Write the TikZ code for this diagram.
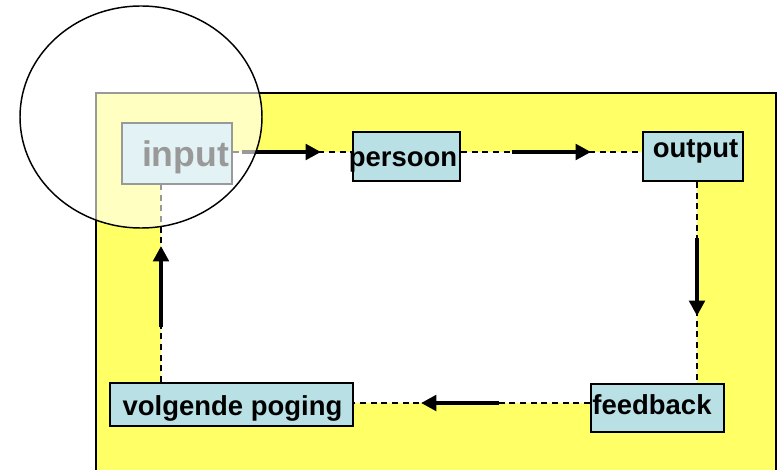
\documentclass[tikz,border=0pt]{standalone}
\usepackage{fontspec}
\setmainfont{Liberation Sans}
\usetikzlibrary{arrows.meta,fit}

\definecolor{frameyellow}{RGB}{255,255,102}
\definecolor{boxcyan}{RGB}{185,224,228}

\tikzset{
  stepbox/.style={draw=black, line width=1.5pt, fill=boxcyan, inner sep=0pt},
  steptext/.style={anchor=base, inner sep=0pt, font=\bfseries\fontsize{20.6pt}{24pt}\selectfont},
  flowline/.style={line width=1.4pt, dash pattern=on 4.5pt off 3.5pt},
  flowarrow/.style={line width=3.6pt, -{Triangle[length=11.5pt,width=11.5pt]}},
}

\begin{document}
\begin{tikzpicture}[x=0.75pt, y=-0.75pt]
\useasboundingbox (0,0) rectangle (781,470);
\clip (0,0) rectangle (781,470);

% yellow frame with a white field inside the loop
\path[draw=black, line width=1.6pt, fill=frameyellow] (96,93) rectangle (776,490);
\fill[white] (161,152) rectangle (697,403);

% the five steps
\node[stepbox, fit={(122,123) (232,184)}] (input) {};
\node[stepbox, fit={(353,132) (460,181)}] (persoon) {};
\node[stepbox, fit={(643,132) (743,181)}] (output) {};
\node[stepbox, fit={(591,384) (724,432)}] (feedback) {};
\node[stepbox, fit={(110,383) (353,426)}] (volgende) {};

% dashed loop between the steps
\draw[flowline] (input.east |- 0,152) -- (persoon.west |- 0,152);
\draw[flowline] (persoon.east |- 0,152) -- (output.west |- 0,152);
\draw[flowline] (output.south -| 697,0) -- (feedback.north -| 697,0);
\draw[flowline] (feedback.west |- 0,403) -- (volgende.east |- 0,403);
\draw[flowline] (volgende.north -| 161,0) -- (input.south -| 161,0);

% direction arrows on the loop
\coordinate (a1s) at (242,152); \coordinate (a1e) at (321,152);
\coordinate (a2s) at (512,152); \coordinate (a2e) at (591,152);
\coordinate (a3s) at (697,238); \coordinate (a3e) at (697,316);
\coordinate (a4s) at (499,403); \coordinate (a4e) at (421,403);
\coordinate (a5s) at (161,327); \coordinate (a5e) at (161,246);
\draw[flowarrow] (a1s) -- (a1e);
\draw[flowarrow] (a2s) -- (a2e);
\draw[flowarrow] (a3s) -- (a3e);
\draw[flowarrow] (a4s) -- (a4e);
\draw[flowarrow] (a5s) -- (a5e);

% labels
\node[steptext, font=\bfseries\fontsize{26.7pt}{30pt}\selectfont] (inputtxt) at (185.5,167) {input};
\node[steptext] (persoontxt) at (403,167) {persoon};
\node[steptext] (outputtxt) at (695.5,158) {output};
\node[steptext] (feedbacktxt) at (652,414) {feedback};
\node[steptext] (volgendetxt) at (232.5,415) {volgende poging};

% highlight lens over the starting step
\fill[white, fill opacity=0.6] (141,117) ellipse [x radius=121, y radius=111];
\draw[black, line width=1.1pt] (141,117) ellipse [x radius=121, y radius=111];
\end{tikzpicture}
\end{document}
